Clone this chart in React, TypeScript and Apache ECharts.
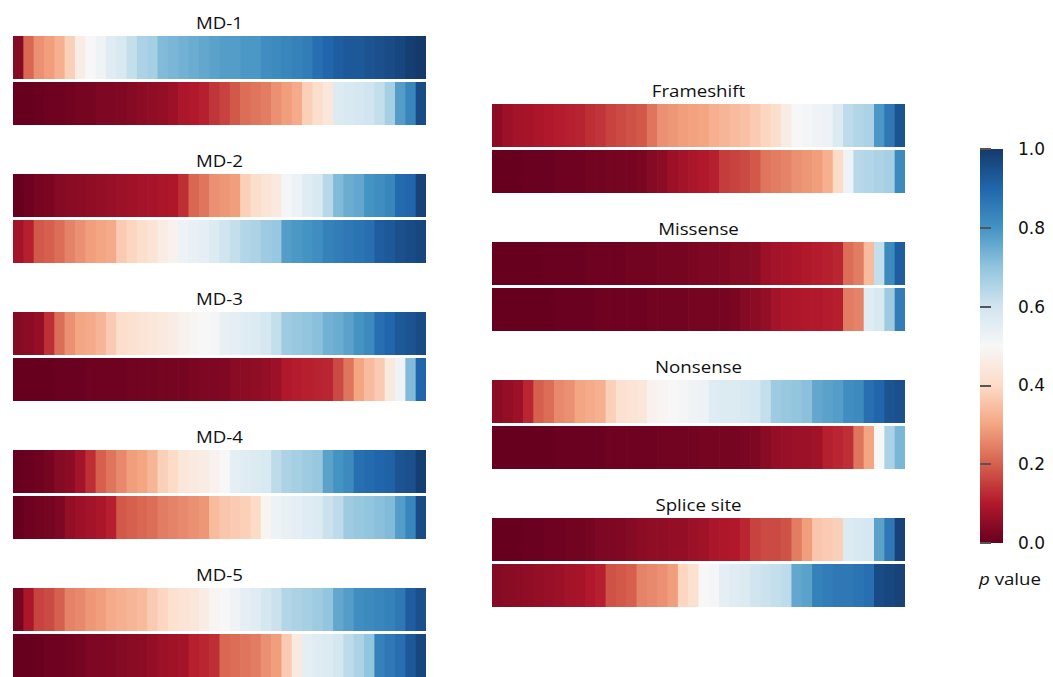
import React, { useEffect, useRef } from "react";
import * as echarts from "echarts";

// ---- Data: sorted p values per strip (two strips per panel) ----
const md1A = [0.04,0.21,0.27,0.29,0.32,0.38,0.46,0.5,0.52,0.56,0.58,0.62,0.66,0.67,0.72,0.73,0.74,0.75,0.76,0.77,0.78,0.78,0.79,0.79,0.81,0.82,0.83,0.84,0.85,0.88,0.9,0.92,0.93,0.93,0.94,0.95,0.96,0.97,0.99,1.0];
const md1B = [0.0,0.0,0.005,0.01,0.01,0.015,0.02,0.02,0.03,0.03,0.035,0.04,0.05,0.055,0.06,0.07,0.09,0.1,0.11,0.14,0.16,0.19,0.22,0.23,0.24,0.27,0.29,0.31,0.38,0.41,0.44,0.57,0.58,0.59,0.6,0.62,0.67,0.78,0.83,0.96];
const md2A = [0.0,0.01,0.02,0.025,0.04,0.045,0.05,0.055,0.06,0.065,0.07,0.075,0.08,0.085,0.09,0.095,0.13,0.21,0.23,0.27,0.28,0.29,0.38,0.41,0.43,0.45,0.51,0.53,0.56,0.58,0.64,0.72,0.75,0.76,0.8,0.81,0.83,0.89,0.9,0.98];
const md2B = [0.08,0.11,0.19,0.2,0.22,0.25,0.27,0.29,0.3,0.31,0.37,0.39,0.41,0.43,0.46,0.48,0.53,0.54,0.55,0.57,0.6,0.62,0.65,0.66,0.68,0.69,0.78,0.79,0.8,0.81,0.84,0.85,0.86,0.87,0.88,0.92,0.93,0.95,0.96,0.97];
const md3A = [0.04,0.05,0.06,0.13,0.22,0.27,0.3,0.31,0.33,0.37,0.41,0.42,0.43,0.44,0.45,0.46,0.48,0.49,0.5,0.51,0.54,0.55,0.56,0.57,0.59,0.62,0.68,0.69,0.7,0.71,0.74,0.75,0.77,0.8,0.82,0.88,0.9,0.93,0.94,0.96];
const md3B = [0.0,0.0,0.0,0.0,0.005,0.005,0.005,0.01,0.01,0.01,0.01,0.015,0.015,0.015,0.02,0.02,0.02,0.025,0.03,0.03,0.035,0.045,0.05,0.055,0.06,0.07,0.1,0.105,0.11,0.115,0.12,0.17,0.23,0.3,0.34,0.37,0.45,0.52,0.72,0.9];
const md4A = [0.0,0.005,0.01,0.02,0.04,0.05,0.08,0.13,0.2,0.23,0.26,0.29,0.3,0.33,0.38,0.4,0.44,0.45,0.46,0.48,0.5,0.55,0.56,0.57,0.58,0.63,0.66,0.67,0.68,0.69,0.77,0.8,0.82,0.88,0.89,0.9,0.91,0.94,0.95,0.99];
const md4B = [0.0,0.01,0.015,0.02,0.03,0.06,0.07,0.08,0.09,0.11,0.19,0.2,0.21,0.22,0.24,0.25,0.26,0.27,0.28,0.34,0.36,0.37,0.38,0.4,0.49,0.53,0.54,0.55,0.56,0.57,0.61,0.63,0.68,0.69,0.7,0.71,0.72,0.78,0.83,0.96];
const md5A = [0.02,0.09,0.16,0.17,0.2,0.25,0.26,0.28,0.29,0.31,0.32,0.33,0.34,0.37,0.39,0.42,0.43,0.44,0.46,0.49,0.5,0.52,0.55,0.56,0.59,0.61,0.65,0.66,0.67,0.68,0.7,0.76,0.78,0.81,0.82,0.83,0.84,0.86,0.92,0.95];
const md5B = [0.0,0.0,0.005,0.01,0.01,0.015,0.02,0.03,0.03,0.035,0.04,0.045,0.05,0.06,0.07,0.075,0.08,0.11,0.12,0.13,0.21,0.22,0.23,0.24,0.27,0.29,0.37,0.45,0.55,0.56,0.57,0.59,0.63,0.66,0.7,0.84,0.86,0.88,0.93,0.97];
const frameshiftA = [0.05,0.07,0.08,0.085,0.09,0.1,0.105,0.11,0.115,0.13,0.14,0.16,0.17,0.18,0.19,0.23,0.27,0.28,0.29,0.295,0.3,0.32,0.33,0.34,0.35,0.37,0.39,0.41,0.46,0.5,0.51,0.52,0.53,0.57,0.63,0.65,0.66,0.79,0.86,0.94];
const frameshiftB = [0.0,0.0,0.0,0.005,0.005,0.005,0.01,0.01,0.01,0.015,0.015,0.02,0.02,0.02,0.025,0.04,0.05,0.07,0.08,0.09,0.1,0.11,0.15,0.16,0.17,0.19,0.23,0.24,0.25,0.27,0.28,0.29,0.32,0.4,0.52,0.64,0.65,0.66,0.67,0.82];
const missenseA = [0,0,0,0,0,0.005,0.005,0.005,0.005,0.01,0.01,0.01,0.01,0.015,0.015,0.015,0.02,0.02,0.02,0.025,0.03,0.03,0.035,0.04,0.04,0.045,0.07,0.08,0.085,0.09,0.1,0.105,0.11,0.12,0.22,0.24,0.34,0.62,0.82,0.92];
const missenseB = [0,0,0,0,0,0,0.005,0.005,0.005,0.005,0.01,0.01,0.01,0.01,0.01,0.015,0.015,0.015,0.015,0.02,0.02,0.02,0.02,0.025,0.04,0.05,0.06,0.08,0.09,0.095,0.1,0.1,0.105,0.11,0.24,0.25,0.56,0.58,0.68,0.85];
const nonsenseA = [0.05,0.06,0.07,0.12,0.2,0.22,0.26,0.27,0.3,0.31,0.32,0.38,0.42,0.43,0.44,0.48,0.49,0.5,0.51,0.52,0.53,0.56,0.57,0.57,0.58,0.59,0.62,0.68,0.69,0.7,0.71,0.76,0.77,0.78,0.81,0.82,0.88,0.9,0.94,0.95];
const nonsenseB = [0,0,0,0,0,0,0.005,0.005,0.005,0.005,0.005,0.01,0.01,0.01,0.01,0.01,0.015,0.015,0.015,0.015,0.02,0.02,0.02,0.02,0.025,0.03,0.045,0.06,0.065,0.07,0.07,0.075,0.11,0.12,0.13,0.23,0.3,0.5,0.66,0.73];
const spliceA = [0,0,0,0.005,0.005,0.01,0.01,0.015,0.015,0.02,0.03,0.03,0.035,0.04,0.05,0.055,0.055,0.06,0.06,0.07,0.075,0.09,0.095,0.1,0.12,0.16,0.17,0.17,0.18,0.24,0.29,0.36,0.37,0.38,0.57,0.58,0.59,0.77,0.86,0.98];
const spliceB = [0.04,0.045,0.05,0.055,0.06,0.065,0.07,0.08,0.085,0.1,0.11,0.18,0.19,0.2,0.25,0.26,0.27,0.29,0.39,0.42,0.5,0.51,0.55,0.56,0.57,0.6,0.61,0.62,0.63,0.76,0.77,0.84,0.85,0.86,0.86,0.87,0.88,0.96,0.97,0.98];

const panelNames = ["MD-1", "MD-2", "MD-3", "MD-4", "MD-5", "Frameshift", "Missense", "Nonsense", "Splice site"];
const panelRows = [
  [md1A, md1B], [md2A, md2B], [md3A, md3B], [md4A, md4B], [md5A, md5B],
  [frameshiftA, frameshiftB], [missenseA, missenseB], [nonsenseA, nonsenseB], [spliceA, spliceB],
];
const colorbarMin = 0;
const colorbarMax = 1;
const colorbarStep = 0.2;

// ---- Layout / style ----
const RDBU = ["#67001f", "#b2182b", "#d6604d", "#f4a582", "#fddbc7", "#f7f7f7", "#d1e5f0", "#92c5de", "#4393c3", "#2166ac", "#143a6c"];
const panelX = [13, 13, 13, 13, 13, 492, 492, 492, 492];
const panelTop = [36, 174, 312, 450, 588, 104, 242, 380, 518];
const STRIP_W = 413;
const STRIP_H = 43;
const STRIP_STEP = 46;
const FONT = "'Open Sans', 'Noto Sans', sans-serif";
const NUM_FONT = "'DejaVu Sans', sans-serif";
const TEXT_SCALE_X = 1.1;
const CB = { x: 980, y: 149, w: 23, h: 394 };

export default function App() {
  const ref = useRef<HTMLDivElement>(null);
  useEffect(() => {
    if (!ref.current) return;
    const chart = echarts.init(ref.current, null, { renderer: "svg" });
    const grid: any[] = [];
    const xAxis: any[] = [];
    const yAxis: any[] = [];
    const series: any[] = [];
    const graphic: any[] = [];
    panelNames.forEach((name, p) => {
      graphic.push({
        type: "text",
        x: panelX[p] + STRIP_W / 2,
        y: panelTop[p] - 14,
        scaleX: TEXT_SCALE_X,
        style: { text: name, fontSize: 17, fontFamily: FONT, fill: "#111", textAlign: "center", textVerticalAlign: "middle" },
      });
      panelRows[p].forEach((vals, r) => {
        const gi = grid.length;
        const n = vals.length;
        grid.push({ left: panelX[p], top: panelTop[p] + r * STRIP_STEP, width: STRIP_W, height: STRIP_H, show: false });
        xAxis.push({ type: "category", gridIndex: gi, data: vals.map((_, i) => String(i)), show: false });
        yAxis.push({ type: "category", gridIndex: gi, data: ["0"], show: false });
        series.push({
          type: "custom",
          xAxisIndex: gi,
          yAxisIndex: gi,
          encode: { x: 0, y: 1 },
          data: vals.map((v, i) => [i, 0, v]),
          renderItem: (params: any, api: any) => {
            const c = api.coord([api.value(0), 0]);
            const s = api.size([1, 1]);
            const extra = params.dataIndex < n - 1 ? 0.7 : 0;
            return {
              type: "rect",
              shape: { x: c[0] - s[0] / 2, y: c[1] - s[1] / 2, width: s[0] + extra, height: s[1] },
              style: { fill: api.visual("color") },
            };
          },
        });
      });
    });
    // colorbar axis
    const cg = grid.length;
    grid.push({ left: CB.x, top: CB.y, width: CB.w, height: CB.h, show: false });
    xAxis.push({ type: "value", gridIndex: cg, show: false, min: 0, max: 1 });
    yAxis.push({
      type: "value",
      gridIndex: cg,
      position: "right",
      min: colorbarMin,
      max: colorbarMax,
      interval: colorbarStep,
      axisLine: { show: false },
      splitLine: { show: false },
      axisTick: { show: true, length: 11, lineStyle: { color: "#555", width: 2 } },
      axisLabel: { fontSize: 17, fontFamily: NUM_FONT, color: "#111", margin: 15, formatter: (v: number) => v.toFixed(1) },
    });
    graphic.push({
      type: "rect",
      z: -1,
      shape: { x: CB.x, y: CB.y, width: CB.w, height: CB.h },
      style: {
        fill: new echarts.graphic.LinearGradient(0, 1, 0, 0, RDBU.map((c, i) => ({ offset: i / (RDBU.length - 1), color: c }))),
      },
    });
    graphic.push({
      type: "text",
      x: 1010,
      y: 578,
      scaleX: TEXT_SCALE_X,
      style: {
        text: "{i|p} value",
        rich: { i: { fontStyle: "italic", fontSize: 17, fontFamily: FONT, fill: "#111" } },
        fontSize: 17,
        fontFamily: FONT,
        fill: "#111",
        textAlign: "center",
        textVerticalAlign: "middle",
      },
    });
    chart.setOption({
      animation: false,
      backgroundColor: "#ffffff",
      grid,
      xAxis,
      yAxis,
      visualMap: {
        type: "continuous",
        show: false,
        min: 0,
        max: 1,
        dimension: 2,
        seriesIndex: series.map((_, i) => i),
        inRange: { color: RDBU },
      },
      series,
      graphic,
    });
    return () => chart.dispose();
  }, []);
  return <div ref={ref} style={{ position: "absolute", left: 0, top: 0, width: 1053, height: 677 }} />;
}
